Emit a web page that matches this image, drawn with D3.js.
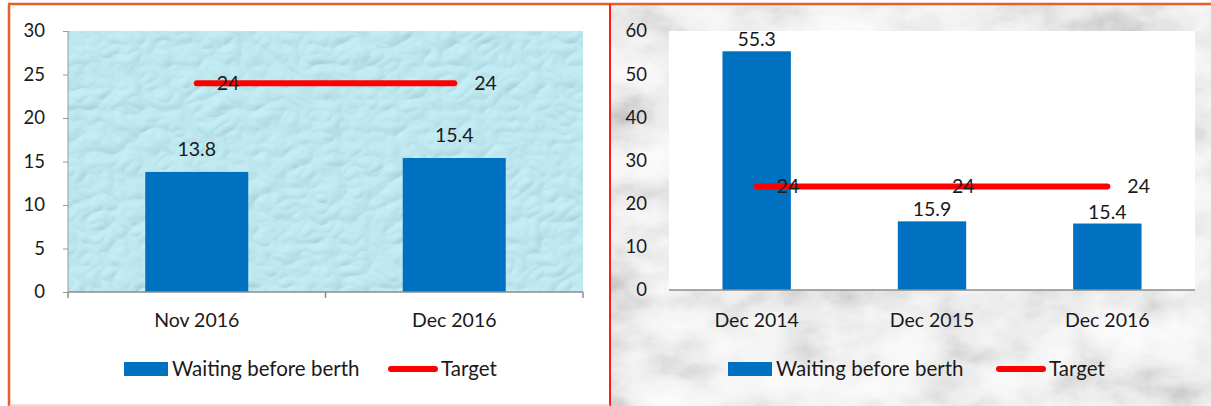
<!DOCTYPE html>
<html>
<head>
<meta charset="utf-8">
<script src="https://cdn.jsdelivr.net/npm/d3@7"></script>
<style>
  html, body { margin: 0; padding: 0; background: #ffffff; }
  svg { display: block; }
  text { font-family: Lato, "Open Sans", sans-serif; fill: #1a1a1a; }
</style>
</head>
<body>
<svg id="chart" width="1211" height="406"></svg>
<script>
// Monthly waiting time before berth (hours) against the target
const monthCategories = ["Nov 2016", "Dec 2016"];
const monthWaiting = [13.8, 15.4];
const monthTarget = [24, 24];
const monthTicks = [0, 5, 10, 15, 20, 25, 30];

// Year-on-year December comparison
const yearCategories = ["Dec 2014", "Dec 2015", "Dec 2016"];
const yearWaiting = [55.3, 15.9, 15.4];
const yearTarget = [24, 24, 24];
const yearTicks = [0, 10, 20, 30, 40, 50, 60];

const seriesNames = ["Waiting before berth", "Target"];

const BAR = "#0070c0";
const LINE = "#ff0000";
const FONT = 19.5;

const svg = d3.select("#chart");
const defs = svg.append("defs");

// Water-droplet texture for the monthly plot area
const water = defs.append("filter").attr("id", "water")
  .attr("x", 0).attr("y", 0).attr("width", 1).attr("height", 1);
water.append("feTurbulence").attr("type", "turbulence")
  .attr("baseFrequency", "0.035 0.045").attr("numOctaves", 2).attr("seed", 7).attr("result", "noise");
const light = water.append("feDiffuseLighting").attr("in", "noise")
  .attr("lighting-color", "#e4fafd").attr("surfaceScale", 2.4).attr("diffuseConstant", 1.0).attr("result", "lit");
light.append("feDistantLight").attr("azimuth", 235).attr("elevation", 60);
water.append("feComposite").attr("in", "lit").attr("in2", "SourceGraphic").attr("operator", "arithmetic")
  .attr("k1", 0).attr("k2", 0.5).attr("k3", 0.58).attr("k4", 0);

// Grey marble texture behind the yearly chart
const marble = defs.append("filter").attr("id", "marble")
  .attr("x", 0).attr("y", 0).attr("width", 1).attr("height", 1);
marble.append("feTurbulence").attr("type", "fractalNoise")
  .attr("baseFrequency", "0.014 0.022").attr("numOctaves", 5).attr("seed", 11).attr("result", "n");
marble.append("feColorMatrix").attr("in", "n").attr("type", "matrix")
  .attr("values", "1 0 0 0 0  1 0 0 0 0  1 0 0 0 0  0 0 0 0 1").attr("result", "g");
marble.append("feComponentTransfer").attr("in", "g")
  .call(s => ["feFuncR", "feFuncG", "feFuncB"].forEach(f =>
    s.append(f).attr("type", "table").attr("tableValues", "0.5 0.6 0.72 0.83 0.9 0.94 0.97 0.98")));

function drawPanel(opt) {
  const { left, top, right, bottom, cats, bars, target, ticks, max, pad, labelGap,
          edgeTicks, yLine, yPad, legend } = opt;
  const g = svg.append("g");

  const x = d3.scaleBand().domain(cats).range([left, right]).paddingInner(pad).paddingOuter(pad / 2);
  const y = d3.scaleLinear().domain([0, max]).range([bottom, top]);
  const cx = c => x(c) + x.bandwidth() / 2;

  // plot area background
  g.append("rect").attr("x", left).attr("y", top).attr("width", right - left).attr("height", bottom - top)
    .attr("fill", opt.plotFill === "water" ? "#98d4e2" : "#ffffff")
    .attr("filter", opt.plotFill === "water" ? "url(#water)" : null);

  // y axis
  const yAxis = g.append("g").attr("transform", `translate(${left},0)`)
    .call(d3.axisLeft(y).tickValues(ticks).tickSize(yLine ? 5 : 0).tickPadding(yPad));
  yAxis.selectAll("text").attr("font-size", 18.5).attr("font-family", "Lato, sans-serif").attr("fill", "#1a1a1a");
  yAxis.selectAll("line").attr("stroke", "#9a9a9a");
  yAxis.select(".domain").attr("stroke", yLine ? "#9a9a9a" : "none").attr("d", `M-0,${top}H0V${bottom}`);

  // bars
  g.selectAll("rect.bar").data(bars).join("rect").attr("class", "bar")
    .attr("x", (d, i) => x(cats[i])).attr("width", x.bandwidth())
    .attr("y", d => y(d)).attr("height", d => bottom - y(d)).attr("fill", BAR);

  // x axis
  const xAxis = g.append("g").attr("transform", `translate(0,${bottom})`)
    .call(d3.axisBottom(x).tickSize(0).tickPadding(opt.xPad));
  xAxis.selectAll("text").attr("font-size", FONT).attr("font-family", "Lato, sans-serif").attr("fill", "#1a1a1a");
  xAxis.select(".domain").attr("stroke", "#8c8c8c").attr("stroke-width", 1.5).attr("d", `M${left},0H${right}`);
  if (edgeTicks) {
    const edges = cats.map(c => x(c) - x.step() * pad / 2).concat([right]);
    xAxis.selectAll("line.edge").data(edges).join("line").attr("class", "edge")
      .attr("x1", d => d).attr("x2", d => d).attr("y1", 0).attr("y2", 6)
      .attr("stroke", "#8c8c8c").attr("stroke-width", 1.5);
  }

  // bar value labels
  g.selectAll("text.val").data(bars).join("text").attr("class", "val")
    .attr("x", (d, i) => cx(cats[i])).attr("y", d => y(d) - labelGap)
    .attr("text-anchor", "middle").attr("font-size", FONT).text(d => d);

  // target line
  const line = d3.line().x((d, i) => cx(cats[i])).y(d => y(d));
  g.append("path").datum(target).attr("d", line).attr("fill", "none")
    .attr("stroke", LINE).attr("stroke-width", 6).attr("stroke-linecap", "round");
  g.selectAll("text.tgt").data(target).join("text").attr("class", "tgt")
    .attr("x", (d, i) => cx(cats[i]) + 20).attr("y", d => y(d)).attr("dy", "0.35em")
    .attr("font-size", FONT).text(d => d);

  // legend
  const lg = g.append("g");
  const ly = legend.y;
  lg.append("rect").attr("x", legend.x).attr("y", ly - 7).attr("width", 44).attr("height", 14).attr("fill", BAR);
  lg.append("text").attr("x", legend.x + 48).attr("y", ly).attr("dy", "0.35em").attr("font-size", 20.5).text(seriesNames[0]);
  lg.append("line").attr("x1", legend.x2).attr("x2", legend.x2 + 44).attr("y1", ly).attr("y2", ly)
    .attr("stroke", LINE).attr("stroke-width", 6).attr("stroke-linecap", "round");
  lg.append("text").attr("x", legend.x2 + 50).attr("y", ly).attr("dy", "0.35em").attr("font-size", 20.5).text(seriesNames[1]);
}

// right panel background (marble)
svg.append("rect").attr("x", 610).attr("y", 4).attr("width", 601).attr("height", 402)
  .attr("fill", "#dddddd").attr("filter", "url(#marble)");

drawPanel({
  left: 68, top: 31, right: 583, bottom: 292,
  cats: monthCategories, bars: monthWaiting, target: monthTarget, ticks: monthTicks, max: 30,
  pad: 0.6, labelGap: 16, edgeTicks: true, yLine: true, yPad: 18, xPad: 21,
  plotFill: "water", legend: { x: 124, x2: 391, y: 369 }
});

drawPanel({
  left: 669, top: 31, right: 1195, bottom: 290,
  cats: yearCategories, bars: yearWaiting, target: yearTarget, ticks: yearTicks, max: 60,
  pad: 0.61, labelGap: 5, edgeTicks: false, yLine: false, yPad: 22, xPad: 23,
  plotFill: "white", legend: { x: 728, x2: 999, y: 369 }
});

// panel frames
svg.append("line").attr("x1", 8).attr("x2", 1211).attr("y1", 4).attr("y2", 4).attr("stroke", "#e4622a").attr("stroke-width", 2.5);
svg.append("line").attr("x1", 9).attr("x2", 9).attr("y1", 4).attr("y2", 406).attr("stroke", "#e4622a").attr("stroke-width", 2.5);
svg.append("line").attr("x1", 610).attr("x2", 610).attr("y1", 4).attr("y2", 406).attr("stroke", "#ff1a1a").attr("stroke-width", 2);
svg.append("line").attr("x1", 9).attr("x2", 610).attr("y1", 405).attr("y2", 405).attr("stroke", "#f4b8a8").attr("stroke-width", 1);
</script>
</body>
</html>
